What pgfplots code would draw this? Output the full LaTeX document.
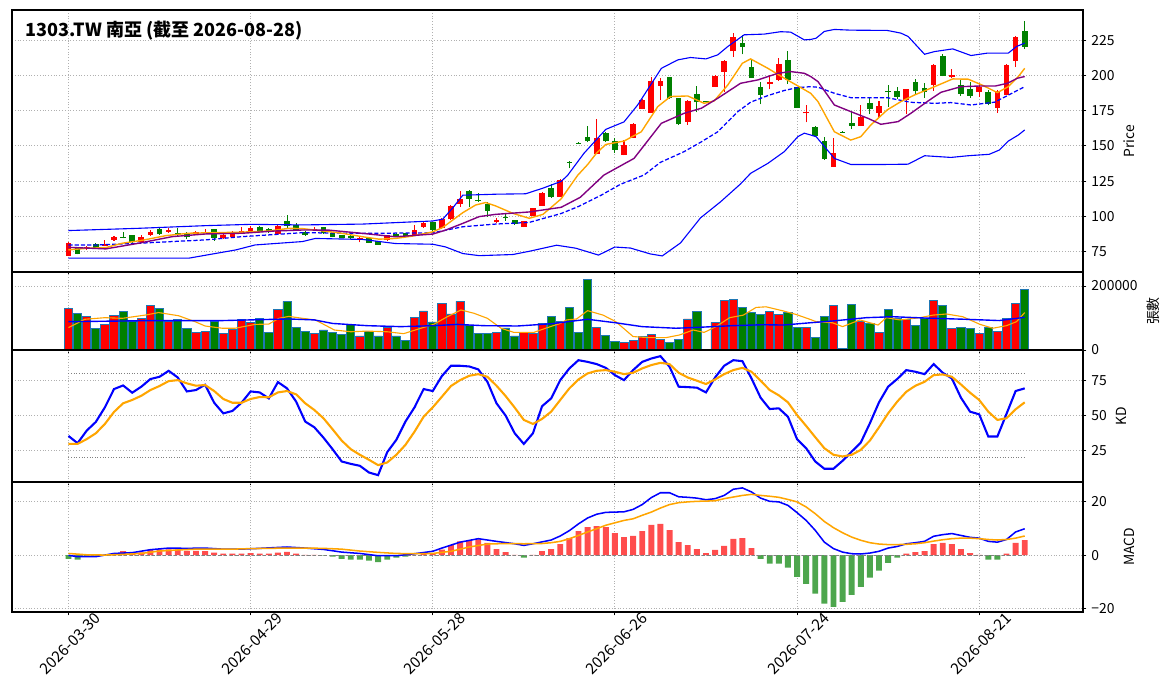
\documentclass[border=0pt]{standalone}
\usepackage{fontspec}
\setmainfont{Noto Sans CJK TC}
\usepackage{pgfplots}
\usepackage{pgfplotstable}
\pgfplotsset{compat=1.18}

\definecolor{cred}{HTML}{FF0000}
\definecolor{cgreen}{HTML}{008000}
\definecolor{edgeblue}{HTML}{1F77B4}
\definecolor{cblue}{HTML}{0000FF}
\definecolor{corange}{HTML}{FFA500}
\definecolor{cpurple}{HTML}{800080}
\definecolor{hred}{HTML}{FF4D4D}
\definecolor{hgreen}{HTML}{4DA64D}
\definecolor{gridgray}{HTML}{B0B0B0}
\definecolor{refgray}{HTML}{808080}

% up (red) candles: i open high low close volume
\pgfplotstableread{
i o h l c v
0 72.0 82.0 71.5 81.0 130000
2 76.6 79.0 76.3 78.5 105000
4 79.0 83.0 78.8 80.4 80000
5 83.5 86.0 82.8 85.1 108000
8 81.8 86.8 81.3 85.4 99000
9 86.8 90.6 86.3 88.9 140000
11 89.2 91.5 88.2 90.6 88500
14 87.7 89.9 87.2 88.7 55000
15 88.2 91.0 88.0 89.2 58000
17 84.9 87.7 84.2 86.6 52000
18 85.6 89.6 85.1 87.7 64600
19 88.0 92.5 87.5 89.6 96000
20 88.9 93.2 88.4 92.0 85000
23 87.7 94.0 87.2 93.4 127000
27 90.5 92.5 90.0 91.3 52000
32 83.1 85.5 81.5 84.3 44000
35 83.1 87.0 82.8 86.7 71000
38 86.7 93.8 86.4 90.2 102000
39 92.6 96.0 92.0 95.5 122000
41 91.4 99.0 91.0 98.3 146000
42 97.9 107.8 97.5 107.4 112500
43 108.8 118.1 106.5 112.4 152000
47 95.7 99.0 95.0 97.6 55000
50 92.6 97.0 92.4 96.7 55000
51 100.2 106.0 100.0 105.7 52000
52 107.6 117.0 107.3 116.7 83000
54 114.0 126.5 113.5 126.0 88500
58 144.4 168.8 144.2 155.3 71000
61 143.5 154.1 143.3 150.6 24000
62 155.8 166.0 155.5 165.5 30000
63 176.4 183.0 176.0 182.6 43000
64 173.6 198.7 173.4 196.1 49000
65 192.8 198.0 182.3 196.1 33000
68 167.2 182.3 164.9 181.9 97000
71 192.0 200.0 191.6 199.6 86000
72 202.7 210.6 188.5 210.3 155000
73 217.0 230.0 213.4 227.4 158000
77 193.7 200.4 190.0 195.4 121000
78 196.8 212.3 196.1 208.2 111000
81 173.1 179.0 166.7 174.3 71000
84 135.2 155.3 135.0 145.1 140000
87 164.3 179.1 164.0 170.3 88500
89 173.6 181.9 170.8 178.3 55000
92 182.6 190.6 172.4 190.2 96000
95 193.2 207.9 189.0 207.5 155000
97 198.9 204.6 197.9 200.4 68000
100 188.5 194.4 184.8 192.1 52000
102 176.7 189.7 173.6 189.0 58000
103 186.1 207.9 185.8 207.5 99000
104 210.5 227.8 205.8 227.4 146000
}\upT

% down (green) candles
\pgfplotstableread{
i o h l c v
1 77.4 77.6 73.0 73.6 113500
3 80.2 81.0 76.9 77.4 68000
6 85.4 89.0 84.4 84.9 121000
7 86.8 87.0 80.9 82.1 88500
10 90.8 91.7 86.8 87.7 130000
12 88.2 91.5 85.6 86.8 96000
13 87.5 89.2 83.9 85.1 68000
16 91.0 91.2 82.5 84.9 88500
21 92.5 93.4 88.7 89.2 99000
22 91.0 91.5 88.5 89.0 55000
24 96.7 101.0 91.5 93.4 152000
25 94.0 95.0 90.0 90.5 71000
26 89.0 89.5 86.0 86.7 57000
28 92.1 92.5 87.5 88.3 62500
29 88.3 88.6 85.0 85.5 55000
30 86.7 87.0 84.5 84.8 49000
31 86.0 87.0 84.0 84.5 80000
33 84.3 85.2 81.0 81.4 57000
34 82.4 82.8 79.7 80.0 44000
36 87.4 88.3 85.6 86.0 44000
37 87.9 88.2 85.7 86.0 30000
40 95.7 96.0 89.8 90.2 87500
44 118.1 118.5 106.5 112.4 78000
45 111.4 116.4 110.2 110.7 52000
46 108.8 110.2 99.8 104.0 52000
48 99.5 101.4 96.9 98.6 69000
49 97.4 97.6 94.0 94.3 44000
53 120.2 122.9 113.3 114.0 105000
55 138.9 139.0 134.0 138.3 133000
56 152.3 152.5 151.5 151.7 55000
57 156.3 164.2 152.5 153.4 221000
59 159.4 159.8 153.0 153.4 46000
60 153.4 155.3 145.2 147.3 27000
66 198.7 199.0 183.5 183.8 24000
67 183.8 184.2 165.0 165.3 33000
69 186.9 192.8 173.8 180.9 121000
70 181.7 181.8 181.0 181.1 0
74 222.9 228.8 215.0 220.5 133000
75 205.6 211.0 198.2 198.5 118000
76 191.8 195.1 179.5 186.4 111000
79 211.0 217.4 194.0 196.8 117000
80 191.6 192.0 176.8 177.1 71000
82 163.4 164.0 156.3 156.8 40000
83 153.4 156.0 140.3 140.6 105000
85 160.1 160.2 159.4 159.5 6000
86 166.2 174.9 161.9 164.3 143000
88 180.5 183.8 172.3 176.4 83000
90 188.7 193.2 177.8 188.0 127000
91 188.7 191.6 183.3 184.7 99000
93 195.1 197.5 186.8 188.7 77000
94 191.1 194.4 183.9 188.3 99000
96 213.9 215.0 199.3 199.6 140000
98 193.2 196.8 185.7 186.8 71000
99 190.4 195.5 184.0 185.4 68000
101 188.5 189.7 178.8 179.5 71000
105 231.2 238.7 218.6 220.5 190000
}\dnT

\pgfplotstableread{
i y
0 76.2
2.2 77.4
4.1 77.8
5.9 80.9
8.1 83.0
10.7 86.3
13.2 88.0
15.8 88.4
18.7 88.7
22 89.6
24.2 91.5
25.7 91.3
27.1 90.2
29.7 88.3
32.3 85.5
34.1 83.8
35.9 84.3
37.8 86.0
40 89.0
41.1 92.1
42.2 97.4
43.3 102.6
44.7 108.0
45.8 109.8
46.9 107.4
48.8 102.1
50.6 98.6
52.1 101.4
54.1 112.4
55.9 129.0
57 136.7
58 145.0
59 151.0
61 153.4
62.9 160.0
64.7 177.8
66.1 185.0
68 185.4
69.8 180.2
70.9 181.9
72.4 193.2
74 208.6
74.9 211.7
76.8 205.0
78.6 198.0
80.1 192.5
81.5 187.3
82.3 181.4
84.1 160.0
85.9 154.1
87 156.5
88.1 164.8
89.9 175.5
91.4 181.4
92.9 186.1
95.1 192.0
97.1 197.5
98.8 197.3
100.3 193.2
102 187.8
103.2 192.0
104.3 199.2
105 205.0
}\maFive

\pgfplotstableread{
i y
0 78.0
4.1 76.9
7.7 80.9
11.4 85.6
15.1 87.5
19.1 88.0
22.7 89.6
25.7 90.3
28.6 90.2
32.3 87.9
35.9 85.5
40 87.4
41.4 90.2
43.3 95.0
45.1 99.8
46.9 101.4
50.6 103.1
54.1 106.4
56.2 113.5
58.8 129.3
62.1 141.1
65.1 166.0
67.6 173.1
69.5 176.7
71.3 183.8
73.8 194.4
75.7 196.8
77.9 201.5
79.3 202.7
80.8 201.5
81.5 199.2
82.3 195.6
84.1 179.0
85.9 174.3
87.8 169.5
89.2 165.3
91.1 167.2
92.5 173.1
94.4 181.9
95.8 188.0
98 192.0
100.2 192.5
101.8 192.5
103.1 194.4
104.2 198.0
105 199.2
}\maTen

\pgfplotstableread{
i y
0 79.7
3.3 79.7
7.7 80.9
15.1 83.3
19.1 85.6
25.7 88.4
32.3 87.9
40 88.3
43.3 92.6
46.9 94.5
50.6 95.7
54.1 102.0
56 107.0
58.5 115.0
60.6 122.7
63.2 129.3
65 138.3
67.6 145.9
69.4 152.5
71.3 160.0
73.5 174.3
74.9 181.0
76.8 185.7
78.6 189.3
80.1 191.4
81.5 192.0
82.3 191.6
84.1 187.3
85.9 184.2
89.9 184.2
92.5 180.9
95.1 180.2
96.9 180.7
99.1 179.0
101.7 181.0
103.2 186.0
105 192.0
}\maTwenty

\pgfplotstableread{
i y
0 89.9
7.7 91.5
15.1 93.4
20 94.3
25.7 93.9
32.3 94.5
40 96.7
41.1 98.0
42.2 106.0
43.3 115.0
44.4 115.2
46.9 115.7
50.2 116.0
52.1 120.0
54.1 124.8
54.8 129.0
56.6 144.7
59 161.7
61 167.0
62.5 179.0
65.1 205.0
66.9 211.0
68.3 212.7
70 211.7
71.3 214.6
72.4 220.5
74.2 228.8
76.4 229.3
78.2 231.0
79.3 230.7
80.8 225.2
81.5 225.5
82.1 226.4
83 231.2
84.1 232.6
85.9 232.1
89.9 231.9
91.4 230.0
92.2 227.6
94 215.0
95.1 216.9
97.1 218.8
99.1 214.1
100.9 215.8
103.2 215.8
104.1 220.5
105 222.9
}\bbUp

\pgfplotstableread{
i y
0 70.3
13.2 70.3
18.4 76.2
20.5 79.7
25.7 82.1
27.1 84.3
32.3 83.6
35.9 80.7
40 80.2
41.4 78.3
43.3 73.6
45.1 72.1
48.8 72.9
50.6 75.2
53.6 79.5
55.7 77.4
58.2 72.5
60 78.2
61.7 77.5
63.9 73.3
65.2 71.9
67.2 81.1
69.4 98.9
71.6 110.3
73.8 123.0
74.9 130.5
76.8 137.6
78.6 145.9
80.1 156.6
80.8 159.0
81.5 157.7
82.1 156.5
84.1 141.1
85.9 136.8
89.6 136.8
92.2 137.0
94 143.0
96.9 141.8
98.8 143.0
101.1 144.0
102.2 147.0
103.2 153.4
104.3 157.7
105 161.3
}\bbLow

\pgfplotstableread{
i y
0 70000
1.8 96000
4 101000
5.9 99000
8.4 109000
9.9 117000
12.1 107000
13.9 88500
15 75000
16.9 68000
18.3 68000
20.5 80000
22 81000
23.1 99000
24.2 105000
25.7 99000
27.1 94000
29.2 62500
31 57000
32.8 59000
35 57000
36.8 51000
38.7 68000
40.1 80000
41.6 104000
43.1 125000
44.5 115000
46 99000
47.5 68000
48.9 55000
51.1 55000
52.6 70000
54 83000
54.7 94000
55.8 97000
57 123000
58.7 109000
60.1 88500
62 42000
63.8 38500
65.6 38500
67.1 47000
68.6 62500
69.8 55000
71.1 73000
72.6 101000
74.1 109000
75.5 133000
76.6 135000
78.5 122000
79.9 111000
81.4 96000
82.1 88500
83.9 85000
85 73000
86.9 94000
88.9 78000
89.8 101000
91.3 94000
93.5 101000
94.9 109000
96.4 112500
98.2 104000
100.1 80000
101.5 68000
103 76000
104.1 88500
105 117000
}\volFive

\pgfplotstableread{
i y
0 88500
9.7 92000
17 92000
24.2 97000
27 94000
29 83000
32.8 76000
36.5 73000
40.1 76000
42.7 80000
45.6 76000
49.3 75000
53 82000
57 96000
60.1 85000
63 73000
66.7 68000
69.3 71000
72.9 76000
76.3 79000
78.5 78000
81.4 85000
83.9 90600
87.6 101000
90.5 104000
94.9 99000
98.5 96000
102.2 92000
105 102000
}\volTwenty

\pgfplotstableread{
i k d
0 35.2 29.5
1 30.0 29.5
2 39.0 32.9
3 45.2 37.1
4 55.7 43.8
5 68.8 52.4
6 71.4 58.6
7 66.2 61.0
8 70.5 64.0
9 76.0 68.1
10 77.6 71.0
11 81.9 74.5
12 77.1 75.2
13 67.1 72.9
14 68.1 71.2
15 71.9 71.7
16 59.0 67.4
17 51.4 61.7
18 53.1 59.0
19 59.0 59.0
20 67.1 61.7
21 66.4 63.1
22 62.1 62.9
23 73.8 66.4
24 69.3 67.4
25 59.8 65.0
26 45.5 58.6
27 41.4 53.8
28 34.0 47.9
29 25.7 40.0
30 16.9 31.9
31 15.2 25.7
32 13.8 21.7
33 9.0 18.1
34 7.1 14.3
35 23.6 16.2
36 32.4 21.7
37 45.5 28.8
38 55.7 38.3
39 68.8 49.0
40 67.4 55.7
41 78.1 63.3
42 85.5 71.0
43 85.5 75.2
44 85.0 78.3
45 82.9 79.5
46 74.0 77.6
47 58.6 71.2
48 49.8 63.8
49 37.1 55.5
50 29.5 46.7
51 37.1 43.8
52 56.5 47.4
53 62.1 52.6
54 75.2 61.0
55 83.6 69.3
56 89.5 75.7
57 88.3 80.0
58 86.7 81.9
59 84.0 82.4
60 78.8 81.2
61 75.2 79.5
62 82.4 80.5
63 88.3 83.6
64 90.7 86.0
65 92.4 87.6
66 84.8 86.7
67 70.5 80.5
68 70.2 77.1
69 69.8 74.8
70 66.4 72.4
71 77.1 75.7
72 85.5 79.5
73 89.5 82.4
74 88.8 84.0
75 76.4 81.2
76 62.6 74.8
77 54.5 68.1
78 55.0 64.3
79 49.0 59.3
80 32.9 50.2
81 26.4 42.4
82 16.9 34.3
83 11.7 26.4
84 11.7 21.7
85 17.4 20.5
86 24.0 21.7
87 30.5 25.2
88 44.3 31.9
89 59.3 41.4
90 70.5 51.4
91 76.0 59.8
92 82.4 66.9
93 81.2 71.2
94 79.5 74.0
95 86.7 78.8
96 80.5 79.3
97 76.4 77.6
98 62.6 72.1
99 52.6 66.2
100 50.7 61.0
101 34.8 52.6
102 34.8 46.7
103 51.0 47.9
104 67.4 54.3
105 69.3 59.3
}\kdT

\pgfplotstableread{
i h
0 -1.4
1 -1.7
2 -0.4
3 -0.2
4 0.1
5 0.6
6 1.5
7 1.0
8 1.0
9 1.9
10 2.1
11 2.1
12 2.1
13 1.6
14 1.6
15 1.5
16 0.9
17 0.5
18 0.5
19 0.5
20 0.75
21 0.5
22 0.5
23 0.9
24 1.2
25 0.5
26 0.1
27 0.05
28 -0.1
29 -0.6
30 -1.4
31 -1.7
32 -1.7
33 -2.1
34 -2.6
35 -1.7
36 -1.0
37 -0.6
38 0.1
39 0.5
40 0.5
41 2.0
42 3.7
43 5.1
44 5.5
45 5.8
46 4.5
47 2.2
48 1.1
49 0.1
50 -1.0
51 0.1
52 1.5
53 2.2
54 4.1
55 6.3
56 8.9
57 10.4
58 10.8
59 10.4
60 8.2
61 6.7
62 7.1
63 8.9
64 11.2
65 11.6
66 9.3
67 4.8
68 3.7
69 2.2
70 0.75
71 1.9
72 3.4
73 6.0
74 6.3
75 2.6
76 -1.4
77 -3.2
78 -3.2
79 -4.7
80 -8.1
81 -10.7
82 -14.4
83 -18.1
84 -19.3
85 -17.4
86 -14.8
87 -11.8
88 -8.4
89 -5.8
90 -2.9
91 -1.0
92 0.5
93 1.1
94 1.5
95 4.1
96 4.5
97 4.1
98 2.2
99 0.75
100 0.1
101 -1.7
102 -1.7
103 0.5
104 4.5
105 5.6
}\histT

\pgfplotstableread{
i y
0 -0.1
1 -0.6
3 -0.6
4 0.0
5 0.6
7 0.9
9 2.0
11 2.6
13 2.5
15 2.6
17 2.2
19 2.2
21 2.5
24 3.0
26 2.6
28 2.1
30 1.1
32 0.6
34 -0.25
36 -0.25
38 0.5
40 1.4
41 2.6
43 4.8
45 6.1
47 5.1
49 4.2
50 3.6
51 4.2
52 4.9
53 5.6
54 7.1
55 9.1
56 11.6
57 13.8
58 15.2
59 15.9
60 16.0
61 16.1
62 17.0
63 18.8
64 21.4
65 23.2
66 23.2
67 21.7
68 21.5
69 21.2
70 20.6
71 21.0
72 22.2
73 24.5
74 25.0
75 23.5
76 21.2
77 20.0
78 19.8
79 18.5
80 15.8
81 12.9
82 9.2
83 4.8
84 2.4
85 1.1
86 0.5
87 0.4
88 0.75
89 1.4
90 2.6
91 3.2
92 4.2
93 4.6
94 5.1
95 7.0
96 7.6
97 8.0
98 7.3
99 6.6
100 6.3
101 5.1
102 4.8
103 5.8
104 8.6
105 9.8
}\difT

\pgfplotstableread{
i y
0 0.6
2 0.1
4 0.0
6 0.25
8 0.6
10 1.5
12 1.9
14 2.2
16 2.2
18 2.2
20 2.4
22 2.5
24 2.6
26 2.6
28 2.5
30 2.2
32 1.5
34 1.0
36 0.6
38 0.5
40 0.6
42 1.4
44 3.0
46 4.1
48 4.3
50 4.2
52 4.3
53 4.6
54 5.1
55 6.1
56 7.3
57 8.6
58 9.8
59 11.1
60 12.0
61 12.9
62 13.5
63 14.8
64 16.0
65 17.5
66 18.8
67 19.5
68 19.8
69 20.0
70 20.1
71 20.2
72 21.0
73 21.6
74 22.2
75 22.6
76 22.2
77 21.9
78 21.5
79 20.7
80 19.8
81 17.9
82 15.4
83 12.5
84 10.2
85 8.3
86 6.7
87 5.5
88 4.6
89 4.1
90 3.9
91 3.9
92 4.0
93 4.2
94 4.6
95 5.2
96 5.7
97 6.1
98 6.3
99 6.3
100 6.1
101 5.8
102 5.6
103 5.8
104 6.3
105 7.1
}\sigT

\pgfplotsset{
  panel/.style={
    scale only axis, width=771.12pt,
    xmin=-6.2, xmax=111.4,
    enlargelimits=false,
    axis line style={line width=0.8pt},
    xtick={0,20,40,60,80,100},
    grid=major,
    major grid style={gridgray, line width=0.6pt, dash pattern=on 0.6pt off 1.4pt},
    xtick pos=bottom, ytick pos=right, yticklabel pos=right,
    tick align=outside, major tick length=2.5pt,
    tick style={black, line width=0.6pt},
    ylabel near ticks,
    tick label style={font=\fontsize{10}{12}\selectfont},
    label style={font=\fontsize{10}{12}\selectfont},
    /pgf/number format/assume math mode=true,
    /pgf/number format/1000 sep={},
    scaled y ticks=false,
  },
  wick/.style={draw=none, mark=none, forget plot,
    error bars/.cd, y dir=plus, y explicit, error mark=none,
    error bar style={line width=0.75pt, draw=#1, draw opacity=1, solid}},
  body/.style={draw=none, mark=none, forget plot,
    error bars/.cd, y dir=plus, y explicit, error mark=none,
    error bar style={line width=4.1pt, draw=#1, draw opacity=1, solid}},
}

\begin{document}
\begin{tikzpicture}

% ---------- price ----------
\begin{axis}[panel, at={(0pt,0pt)}, anchor=north west, height=188.64pt,
  ymin=60.5, ymax=246.4, ytick={75,100,125,150,175,200,225},
  xticklabels={}, ylabel={Price}]
\addplot[wick=cred] table[x=i, y=l, y error expr=\thisrow{h}-\thisrow{l}] {\upT};
\addplot[body=cred] table[x=i, y=o, y error expr=\thisrow{c}-\thisrow{o}] {\upT};
\addplot[wick=cgreen] table[x=i, y=l, y error expr=\thisrow{h}-\thisrow{l}] {\dnT};
\addplot[body=cgreen] table[x=i, y=c, y error expr=\thisrow{o}-\thisrow{c}] {\dnT};
\addplot[cblue, line width=0.8pt, mark=none] table[x=i,y=y] {\bbUp};
\addplot[cblue, line width=0.8pt, mark=none] table[x=i,y=y] {\bbLow};
\addplot[cblue, line width=0.9pt, mark=none, dash pattern=on 3pt off 1.5pt] table[x=i,y=y] {\maTwenty};
\addplot[corange, line width=1pt, mark=none] table[x=i,y=y] {\maFive};
\addplot[cpurple, line width=1pt, mark=none] table[x=i,y=y] {\maTen};
\node[anchor=north west, inner sep=0pt, xshift=9.4pt, yshift=-7.5pt,
  font=\fontsize{13}{16}\selectfont\bfseries] at (rel axis cs:0,1)
  {1303.TW 南亞 (截至 2026-08-28)};
\end{axis}

% ---------- volume ----------
\begin{axis}[panel, at={(0pt,-188.64pt)}, anchor=north west, height=56.16pt,
  ymin=0, ymax=243750, ytick={0,200000}, yticklabels={0,200000},
  xticklabels={}, ylabel={張數}]
\addplot[ybar, bar width=0.9, bar shift=0pt, fill=cred, draw=edgeblue, line width=0.6pt, forget plot]
  table[x=i, y=v] {\upT};
\addplot[ybar, bar width=0.9, bar shift=0pt, fill=cgreen, draw=edgeblue, line width=0.6pt, forget plot]
  table[x=i, y=v] {\dnT};
\addplot[corange, line width=0.8pt, mark=none] table[x=i,y=y] {\volFive};
\addplot[cblue, line width=1pt, mark=none] table[x=i,y=y] {\volTwenty};
\end{axis}

% ---------- KD ----------
\begin{axis}[panel, at={(0pt,-244.8pt)}, anchor=north west, height=95.04pt,
  ymin=2.2, ymax=96.8, ytick={25,50,75},
  xticklabels={}, ylabel={KD}]
\addplot[refgray, line width=0.7pt, dash pattern=on 0.7pt off 1.2pt, mark=none] coordinates {(0,80) (105,80)};
\addplot[refgray, line width=0.7pt, dash pattern=on 0.7pt off 1.2pt, mark=none] coordinates {(0,20) (105,20)};
\addplot[cblue, line width=1.5pt, mark=none] table[x=i,y=k] {\kdT};
\addplot[corange, line width=1.5pt, mark=none] table[x=i,y=d] {\kdT};
\end{axis}

% ---------- MACD ----------
\begin{axis}[panel, at={(0pt,-339.84pt)}, anchor=north west, height=93.6pt,
  ymin=-21.2, ymax=27.2, ytick={-20,0,20}, yticklabels={−20,0,20},
  xticklabels={2026-03-30,2026-04-29,2026-05-28,2026-06-26,2026-07-24,2026-08-21},
  xticklabel style={rotate=45, anchor=north east, inner sep=0pt,
    font=\fontsize{11}{13}\selectfont, xshift=15pt, yshift=-11pt},
  ylabel={MACD}]
\addplot[ybar, bar width=0.65, bar shift=0pt, fill=hred, draw=none, restrict y to domain=0:100, forget plot]
  table[x=i, y=h] {\histT};
\addplot[ybar, bar width=0.65, bar shift=0pt, fill=hgreen, draw=none, restrict y to domain=-100:0, forget plot]
  table[x=i, y=h] {\histT};
\addplot[refgray, line width=0.7pt, dash pattern=on 2.5pt off 1.5pt, mark=none] coordinates {(0,0) (105,0)};
\addplot[cblue, line width=1.1pt, mark=none] table[x=i,y=y] {\difT};
\addplot[corange, line width=1.1pt, mark=none] table[x=i,y=y] {\sigT};
\end{axis}

\pgfresetboundingbox
\path[use as bounding box] (-8.64pt,7.2pt) rectangle (835.2pt,-495.36pt);
\end{tikzpicture}
\end{document}
